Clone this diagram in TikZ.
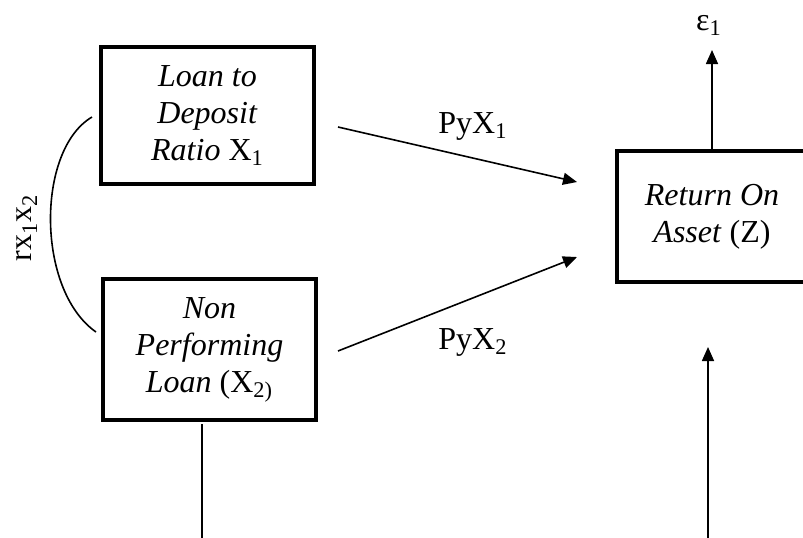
\documentclass[tikz,border=0pt]{standalone}
\usepackage{fontspec}
\setmainfont{Liberation Serif}
\usetikzlibrary{arrows.meta}
\begin{document}
\begin{tikzpicture}[x=0.5pt,y=-0.5pt,
  var/.style={draw,line width=2pt,align=center,inner sep=0pt,
    font=\fontsize{16}{18.5}\selectfont},
  link/.style={line width=0.8pt},
  effect/.style={link,-{Triangle[length=7pt,width=6pt]}},
  lbl/.style={inner sep=0pt,font=\fontsize{16}{18.5}\selectfont}]
\useasboundingbox (0,0) rectangle (803,537);

% variables
\node[var,minimum width=106.5pt,minimum height=68.5pt] (ldr) at (207.5,115.5)
  {\textit{Loan to}\\\textit{Deposit}\\\textit{Ratio} X\textsubscript{1}};
\node[var,minimum width=106.5pt,minimum height=70.5pt] (npl) at (209.5,349.5)
  {\textit{Non}\\\textit{Performing}\\\textit{Loan} (X\textsubscript{2)}};
\node[var,minimum width=95pt,minimum height=65.5pt] (roa) at (712,216.5)
  {\textit{Return On}\\\textit{Asset} (Z)};

% correlation between the two causes
\coordinate (c1) at (92,117);
\coordinate (c2) at (96,332);
\draw[link] (c1) .. controls (36,150) and (36,290) .. (c2);
\node[lbl,rotate=90] (rxx) at (27,228) {rx\textsubscript{1}x\textsubscript{2}};

% path coefficients
\coordinate (a1s) at (338,127);
\coordinate (a1e) at (577,182);
\coordinate (a2s) at (338,351);
\coordinate (a2e) at (577,257);
\draw[effect] (a1s) -- (a1e);
\draw[effect] (a2s) -- (a2e);
\node[lbl,anchor=base] (p1) at (473,133) {PyX\textsubscript{1}};
\node[lbl,anchor=base] (p2) at (473,349) {PyX\textsubscript{2}};

% residual
\coordinate (e1) at (712,50);
\draw[effect] (roa.north) -- (e1);
\node[lbl,anchor=base] (eps) at (709,30) {ε\textsubscript{1}};

% lines at the bottom
\coordinate (d1) at (202,424);
\coordinate (d2) at (202,540);
\draw[link] (d1) -- (d2);
\coordinate (u1) at (708,540);
\coordinate (u2) at (708,347);
\draw[effect] (u1) -- (u2);
\end{tikzpicture}
\end{document}
